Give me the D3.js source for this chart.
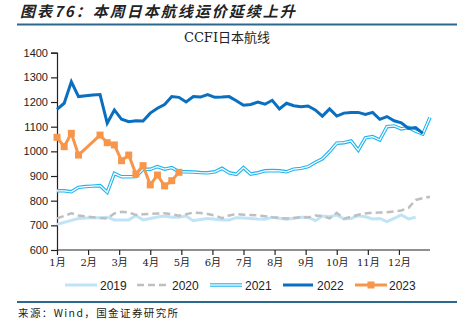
<!DOCTYPE html>
<html>
<head>
<meta charset="utf-8">
<script src="https://cdn.jsdelivr.net/npm/d3@7"></script>
<style>
body { margin: 0; background: #fff; }
svg { display: block; }
</style>
</head>
<body>
<script>
// weekly CCFI Japan route index, one value per week
var months = ["1月","2月","3月","4月","5月","6月","7月","8月","9月","10月","11月","12月"];
var yTicks = [600, 700, 800, 900, 1000, 1100, 1200, 1300, 1400];

var v2019 = [704,712,720,728,730,731,731,733,722,722,722,739,722,728,734,738,733,733,738,719,
  724,728,725,722,722,731,730,728,726,725,733,729,725,729,733,733,719,738,735,742,
  726,728,739,735,726,728,715,728,742,726,733];
var v2020 = [728,738,749,740,736,733,730,728,748,755,752,742,745,746,748,749,745,739,745,752,
  750,746,740,729,740,746,743,742,740,737,733,730,728,730,733,732,740,738,728,751,
  727,735,743,748,751,752,753,756,760,771,803,810,816];
var v2021 = [840,840,836,854,857,859,861,834,911,897,897,898,927,927,938,928,934,917,917,916,
  914,913,917,931,913,907,934,908,913,921,922,921,917,928,931,938,955,970,999,1033,
  1035,1042,1005,1055,1060,1046,1100,1103,1091,1097,1082,1070,1138];
var v2022 = [1170,1195,1282,1222,1225,1228,1230,1114,1168,1130,1120,1124,1123,1155,1175,1190,1222,1219,1200,1222,
  1220,1230,1219,1220,1222,1205,1187,1190,1200,1191,1207,1172,1195,1185,1181,1184,1168,1143,1172,1143,
  1155,1158,1158,1150,1158,1130,1141,1124,1116,1093,1096,1073];
var w2023 = [0,1,2,3,6,7,8,9,10,11,12,13,14,15,16,17];
var v2023 = [1057,1019,1073,985,1066,1035,1026,962,985,908,942,864,904,860,881,915];

var W = 457, H = 330;
var svg = d3.select("body").append("svg").attr("width", W).attr("height", H);

var x = d3.scaleLinear().domain([0, 52]).range([57, 430]);
var xm = d3.scaleLinear().domain([0, 12]).range([57, 430]);
var y = d3.scaleLinear().domain([600, 1400]).range([250, 52.7]);

var cjk = "'Noto Sans CJK SC', sans-serif";
var serif = "'DejaVu Serif', 'Noto Sans CJK SC', serif";

// header
svg.append("text").attr("x", 20).attr("y", 17)
  .attr("font-family", cjk).attr("font-size", 15).attr("font-weight", "bold")
  .attr("font-style", "italic").attr("letter-spacing", 2).attr("fill", "#222")
  .text("图表76：本周日本航线运价延续上升");
svg.append("line").attr("x1", 17).attr("x2", 457).attr("y1", 24.5).attr("y2", 24.5)
  .attr("stroke", "#2b6a8e").attr("stroke-width", 2);

svg.append("text").attr("x", 227).attr("y", 42).attr("text-anchor", "middle")
  .attr("font-family", serif).attr("font-size", 13).attr("fill", "#222")
  .text("CCFI日本航线");

// axes
var yAxis = svg.append("g").attr("transform", "translate(57,0)")
  .call(d3.axisLeft(y).tickValues(yTicks).tickSize(6).tickPadding(3).tickFormat(d3.format("d")));
yAxis.selectAll("text").attr("font-family", "'Liberation Sans', Arial, sans-serif")
  .attr("font-size", 11).attr("fill", "#222");

var xAxis = svg.append("g").attr("transform", "translate(0,250)")
  .call(d3.axisBottom(xm).tickValues(d3.range(12)).tickSize(5).tickPadding(4)
    .tickFormat(function(d){ return months[d]; }));
xAxis.selectAll("text").attr("font-family", serif).attr("font-size", 10).attr("fill", "#222");
xAxis.select(".domain").attr("d", "M57,0H430");

svg.selectAll(".domain, .tick line").attr("stroke", "#222").attr("stroke-width", 1.2);

var line = d3.line().x(function(d){ return x(d[0]); }).y(function(d){ return y(d[1]); });
function pts(vals) { return vals.map(function(v, i){ return [i, v]; }); }

svg.append("path").attr("d", line(pts(v2019))).attr("fill", "none")
  .attr("stroke", "#bfe4f7").attr("stroke-width", 3);
svg.append("path").attr("d", line(pts(v2020))).attr("fill", "none")
  .attr("stroke", "#bfbfbf").attr("stroke-width", 2.5).attr("stroke-dasharray", "7,4");
svg.append("path").attr("d", line(pts(v2021))).attr("fill", "none")
  .attr("stroke", "#1fb4ee").attr("stroke-width", 3.5);
svg.append("path").attr("d", line(pts(v2021))).attr("fill", "none")
  .attr("stroke", "#fff").attr("stroke-width", 1.3);
svg.append("path").attr("d", line(pts(v2022))).attr("fill", "none")
  .attr("stroke", "#0b6fc0").attr("stroke-width", 3);

var p2023 = w2023.map(function(w, i){ return [w, v2023[i]]; });
svg.append("path").attr("d", line(p2023)).attr("fill", "none")
  .attr("stroke", "#f7964a").attr("stroke-width", 3);
svg.selectAll(".m23").data(p2023).enter().append("rect")
  .attr("x", function(d){ return x(d[0]) - 3.5; })
  .attr("y", function(d){ return y(d[1]) - 3.5; })
  .attr("width", 7).attr("height", 7).attr("fill", "#f7964a");

// legend
var legend = ["2019", "2020", "2021", "2022", "2023"];
var lg = svg.append("g");
var ly = 285;
lg.append("line").attr("x1", 65).attr("x2", 97).attr("y1", ly).attr("y2", ly)
  .attr("stroke", "#bfe4f7").attr("stroke-width", 3);
lg.append("line").attr("x1", 137).attr("x2", 168).attr("y1", ly).attr("y2", ly)
  .attr("stroke", "#bfbfbf").attr("stroke-width", 2.5).attr("stroke-dasharray", "7,4");
lg.append("line").attr("x1", 210).attr("x2", 242).attr("y1", ly).attr("y2", ly)
  .attr("stroke", "#1fb4ee").attr("stroke-width", 3.5);
lg.append("line").attr("x1", 210).attr("x2", 242).attr("y1", ly).attr("y2", ly)
  .attr("stroke", "#fff").attr("stroke-width", 1.3);
lg.append("line").attr("x1", 283).attr("x2", 313).attr("y1", ly).attr("y2", ly)
  .attr("stroke", "#0b6fc0").attr("stroke-width", 3);
lg.append("line").attr("x1", 355).attr("x2", 387).attr("y1", ly).attr("y2", ly)
  .attr("stroke", "#f7964a").attr("stroke-width", 3);
lg.append("rect").attr("x", 367.5).attr("y", ly - 3.5).attr("width", 7).attr("height", 7)
  .attr("fill", "#f7964a");
lg.selectAll("text").data(legend).enter().append("text")
  .attr("x", function(d, i){ return [100, 172, 245, 317, 389][i]; })
  .attr("y", ly + 4.5)
  .attr("font-family", "'Liberation Sans', Arial, sans-serif").attr("font-size", 12)
  .attr("fill", "#222")
  .text(function(d){ return d; });

// footer
svg.append("line").attr("x1", 17).attr("x2", 457).attr("y1", 302).attr("y2", 302)
  .attr("stroke", "#2b6a8e").attr("stroke-width", 2);
svg.append("text").attr("x", 18).attr("y", 317)
  .attr("font-family", cjk).attr("font-size", 10.5).attr("letter-spacing", 1.4).attr("fill", "#222")
  .text("来源：Wind，国金证券研究所");
</script>
</body>
</html>
